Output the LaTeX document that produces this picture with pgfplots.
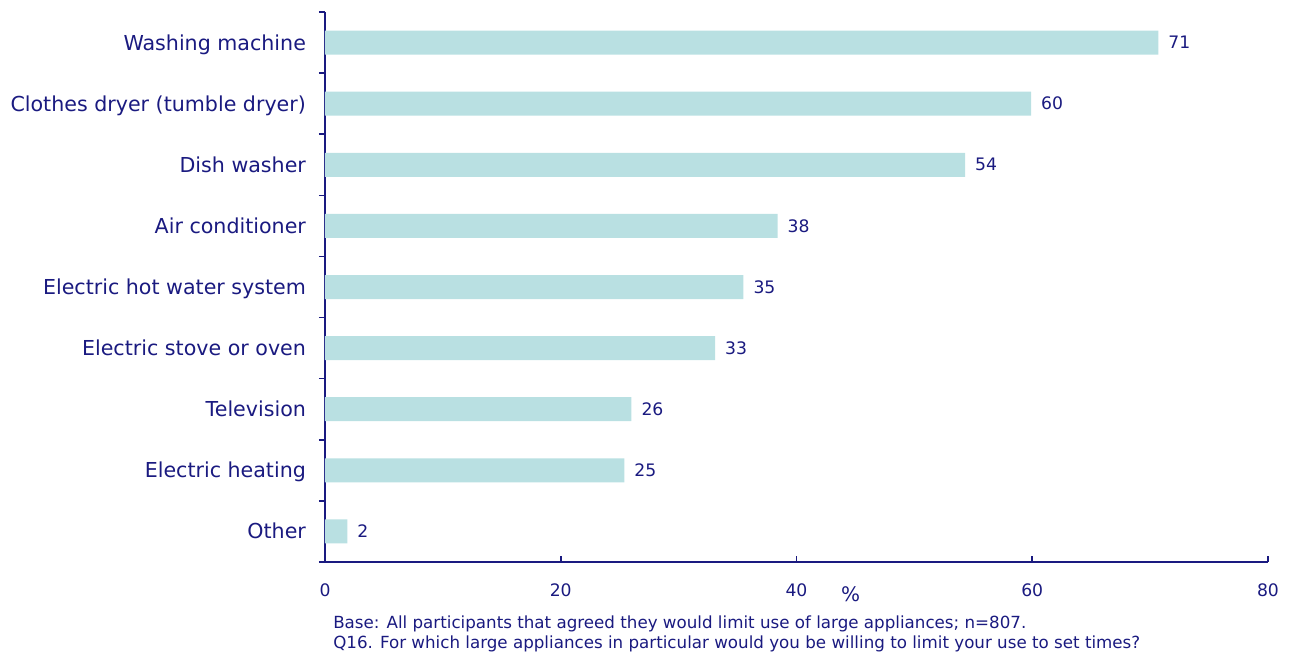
\documentclass[border=0pt]{standalone}
\usepackage{pgfplots}
\pgfplotsset{compat=1.18}
\usepackage{fontspec}
\setmainfont{DejaVu Sans}
\definecolor{navy}{RGB}{26,26,128}
\definecolor{barc}{RGB}{185,224,226}
\begin{document}
\begin{tikzpicture}[font=\fontsize{10}{12}\selectfont]
\path (-162.5pt,-46.5pt) rectangle (485pt,281pt);
\begin{axis}[
  at={(0,0)}, anchor=south west,
  scale only axis, width=471.5pt, height=275pt,
  xbar, bar width=12pt,
  xmin=0, xmax=80, ymin=-0.5, ymax=8.5, y dir=reverse,
  axis lines*=left,
  axis line style={navy, -, line width=0.8pt},
  every tick/.style={navy, line width=0.8pt},
  xtick={0,20,40,60,80},
  ytick={0,...,8},
  yticklabels={Washing machine, Clothes dryer (tumble dryer), Dish washer, Air conditioner, Electric hot water system, Electric stove or oven, Television, Electric heating, Other},
  minor ytick={-0.5,0.5,...,8.5},
  major tick length=3pt, minor tick length=3pt,
  xtick align=inside, ytick align=outside,
  major y tick style={draw=none},
  tick label style={text=navy},
  yticklabel style={font=\fontsize{10.3}{12}\selectfont, xshift=-3pt, text height=0.95em, text depth=0.2em},
  xticklabel style={font=\fontsize{8.6}{10}\selectfont, yshift=-7.5pt},
  /pgf/number format/assume math mode=true,
  point meta=explicit symbolic,
  nodes near coords,
  every node near coord/.append style={font=\fontsize{8.6}{10}\selectfont, text=navy, anchor=west, xshift=1.5pt},
  clip=false,
]
\addplot[fill=barc, draw=none] coordinates {
  (70.7,0) [71] (59.9,1) [60] (54.3,2) [54] (38.4,3) [38] (35.5,4) [35]
  (33.1,5) [33] (26.0,6) [26] (25.4,7) [25] (1.9,8) [2]};
\node[anchor=base, text=navy, font=\fontsize{10}{12}\selectfont] at (axis cs:44.6,8.5) [yshift=-19.5pt] {\%};
\node[anchor=base west, text=navy, font=\fontsize{8.35}{10}\selectfont] at (rel axis cs:0,0) [xshift=0.6pt, yshift=-33pt] {Base: All participants that agreed they would limit use of large appliances; n=807.};
\node[anchor=base west, text=navy, font=\fontsize{8.35}{10}\selectfont] at (rel axis cs:0,0) [xshift=0.6pt, yshift=-43pt] {Q16. For which large appliances in particular would you be willing to limit your use to set times?};
\end{axis}
\end{tikzpicture}
\end{document}
